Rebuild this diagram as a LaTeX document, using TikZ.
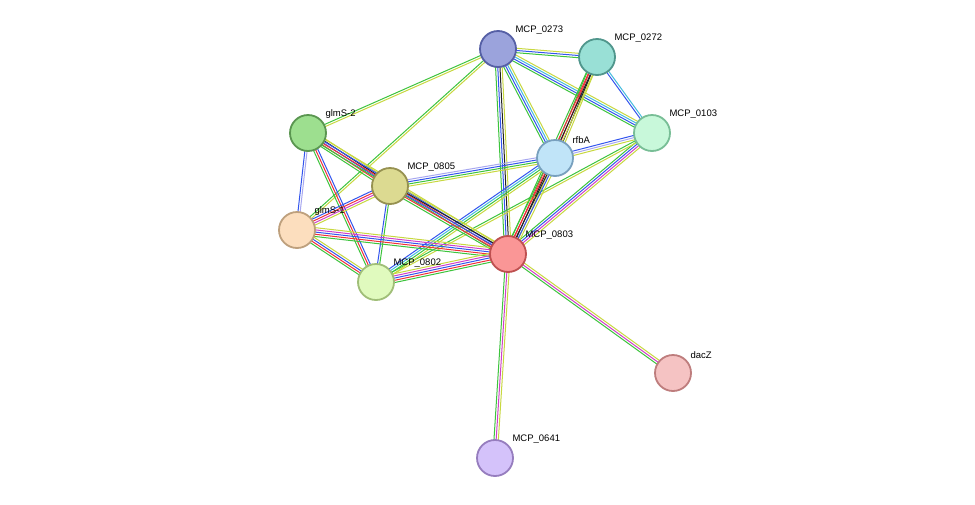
\documentclass[tikz,border=0pt]{standalone}
\usepackage{fontspec}
\setmainfont{Liberation Sans}
\usetikzlibrary{calc}
\pgfdeclarelayer{background}
\pgfsetlayers{background,main}
\definecolor{cgreen}{HTML}{3DC43D}
\definecolor{cred}{HTML}{F0303A}
\definecolor{cblue}{HTML}{3355EE}
\definecolor{cblack}{HTML}{222222}
\definecolor{cpurple}{HTML}{D040C8}
\definecolor{ccyan}{HTML}{44BBDD}
\definecolor{cyellow}{HTML}{C8D840}
\definecolor{clav}{HTML}{A8A8F0}
% one thin line per evidence channel, side by side
\newcommand{\ppilink}[4]{%
  \foreach \c [count=\i] in {#4} {
    \pgfmathsetmacro\off{(\i-(#3+1)/2)*2.2}
    \draw[color=\c, line width=1pt]
      ($(#1)!\off pt!90:(#2)$) -- ($(#2)!\off pt!-90:(#1)$);
  }}
\begin{document}
\begin{tikzpicture}[x=1pt, y=-1pt,
  prot/.style={circle, draw, line width=1.8pt, minimum size=36pt, inner sep=0pt},
  lbl/.style={font=\fontsize{9.5}{11}\selectfont, inner sep=1pt, xshift=3pt}
]
  \useasboundingbox (0,0) rectangle (975,504);
  % proteins
  \node[prot, fill={rgb,255:red,155;green,163;blue,220}, draw={rgb,255:red,85;green,95;blue,165}] (m0273) at (498,49)
    [label={[lbl]45:MCP\_0273}] {};
  \node[prot, fill={rgb,255:red,153;green,224;blue,214}, draw={rgb,255:red,80;green,150;blue,140}] (m0272) at (597,57)
    [label={[lbl]45:MCP\_0272}] {};
  \node[prot, fill={rgb,255:red,200;green,248;blue,218}, draw={rgb,255:red,120;green,190;blue,150}] (m0103) at (652,133)
    [label={[lbl]45:MCP\_0103}] {};
  \node[prot, fill={rgb,255:red,192;green,228;blue,248}, draw={rgb,255:red,120;green,160;blue,190}] (rfbA) at (555,158)
    [label={[lbl]45:rfbA}] {};
  \node[prot, fill={rgb,255:red,157;green,223;blue,143}, draw={rgb,255:red,90;green,150;blue,80}] (glmS2) at (308,133)
    [label={[lbl]45:glmS-2}] {};
  \node[prot, fill={rgb,255:red,220;green,218;blue,145}, draw={rgb,255:red,150;green,145;blue,80}] (m0805) at (390,186)
    [label={[lbl]45:MCP\_0805}] {};
  \node[prot, fill={rgb,255:red,252;green,222;blue,190}, draw={rgb,255:red,190;green,160;blue,125}] (glmS1) at (297,230)
    [label={[lbl]45:glmS-1}] {};
  \node[prot, fill={rgb,255:red,250;green,150;blue,150}, draw={rgb,255:red,190;green,80;blue,80}] (m0803) at (508,254)
    [label={[lbl]45:MCP\_0803}] {};
  \node[prot, fill={rgb,255:red,224;green,250;blue,190}, draw={rgb,255:red,160;green,190;blue,120}] (m0802) at (376,282)
    [label={[lbl]45:MCP\_0802}] {};
  \node[prot, fill={rgb,255:red,245;green,195;blue,195}, draw={rgb,255:red,190;green,125;blue,125}] (dacZ) at (673,373)
    [label={[lbl]45:dacZ}] {};
  \node[prot, fill={rgb,255:red,212;green,194;blue,250}, draw={rgb,255:red,150;green,125;blue,190}] (m0641) at (495,458)
    [label={[lbl]45:MCP\_0641}] {};

  \begin{pgfonlayer}{background}
  \fill[white] (0,0) rectangle (975,504);
  % associations
  \ppilink{m0273}{m0272}{3}{cgreen,cblue,cyellow}
  \ppilink{m0273}{m0103}{4}{cgreen,cblue,ccyan,cyellow}
  \ppilink{m0273}{rfbA}{4}{cgreen,cblue,ccyan,cyellow}
  \ppilink{m0273}{m0803}{4}{cgreen,cblue,cblack,cyellow}
  \ppilink{m0273}{glmS2}{2}{cgreen,cyellow}
  \ppilink{m0273}{glmS1}{2}{cgreen,cyellow}
  \ppilink{m0272}{m0103}{2}{cblue,ccyan}
  \ppilink{m0272}{rfbA}{4}{cgreen,cred,cblack,cyellow}
  \ppilink{m0272}{m0803}{4}{cgreen,cred,cblack,cyellow}
  \ppilink{m0103}{rfbA}{3}{cblue,clav,cyellow}
  \ppilink{m0103}{m0803}{4}{cgreen,cblue,cpurple,cyellow}
  \ppilink{m0103}{m0802}{2}{cgreen,cyellow}
  \ppilink{rfbA}{m0805}{4}{clav,cblue,cgreen,cyellow}
  \ppilink{rfbA}{m0803}{5}{cgreen,cred,cblack,cblue,cyellow}
  \ppilink{rfbA}{m0802}{4}{cblue,ccyan,cgreen,cyellow}
  \ppilink{glmS2}{m0805}{5}{cgreen,cred,cblue,cblack,cyellow}
  \ppilink{glmS2}{m0803}{4}{cgreen,cred,cblue,cyellow}
  \ppilink{glmS2}{glmS1}{2}{cblue,clav}
  \ppilink{glmS2}{m0802}{3}{cgreen,cred,cblue}
  \ppilink{m0805}{m0803}{5}{cgreen,cred,cblue,cblack,cyellow}
  \ppilink{m0805}{glmS1}{4}{cblue,cred,cpurple,cyellow}
  \ppilink{m0805}{m0802}{2}{cblue,cgreen}
  \ppilink{glmS1}{m0803}{5}{cgreen,cred,cblue,cpurple,cyellow}
  \ppilink{glmS1}{m0802}{4}{cgreen,cred,cblue,cyellow}
  \ppilink{m0802}{m0803}{5}{cgreen,cred,cblue,cpurple,cyellow}
  \ppilink{m0803}{dacZ}{3}{cgreen,cpurple,cyellow}
  \ppilink{m0803}{m0641}{3}{cgreen,cpurple,cyellow}
  \end{pgfonlayer}
\end{tikzpicture}
\end{document}
